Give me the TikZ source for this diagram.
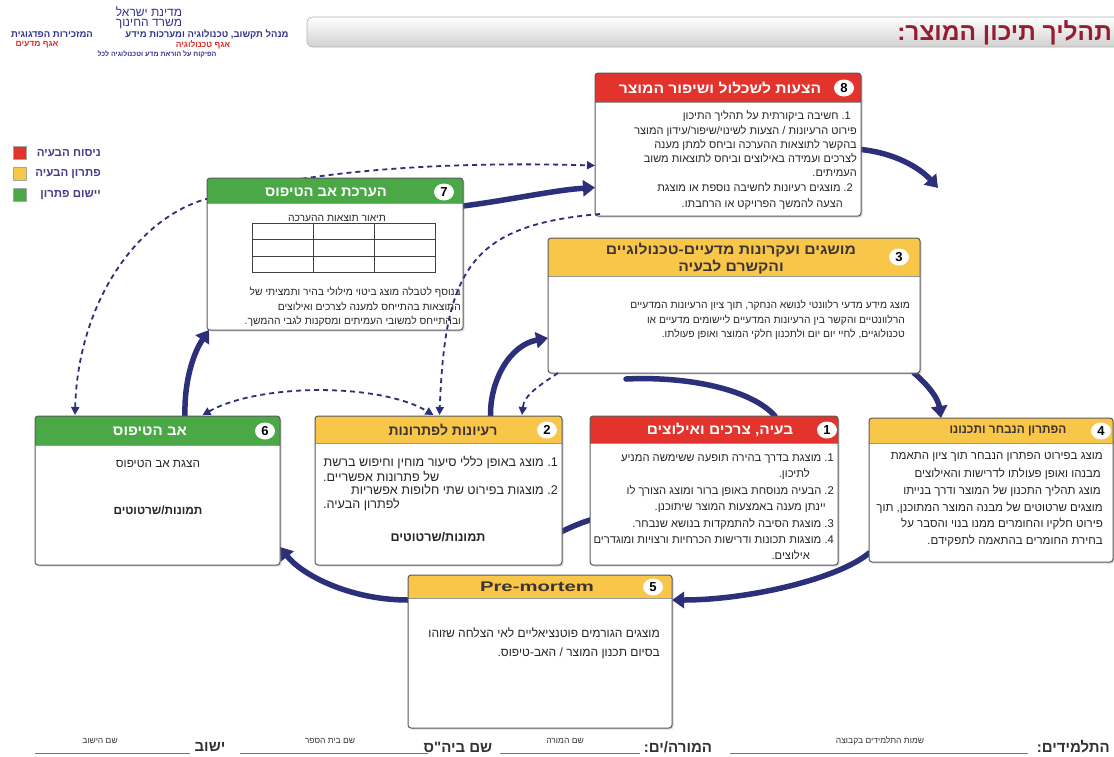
\documentclass[tikz,border=0pt]{standalone}
\usepackage{fontspec}
\setmainfont{Liberation Sans}
\newfontfamily\heb[Script=Hebrew]{Liberation Sans}
\usetikzlibrary{shadows,arrows.meta,calc,shapes.geometric}
\TeXXeTstate=1
\newcommand{\RL}[1]{\beginR #1\endR}
\newcommand{\nm}[1]{\beginL #1.\endL\ }
\definecolor{navy}{RGB}{44,47,122}
\definecolor{hred}{RGB}{226,52,44}
\definecolor{hyel}{RGB}{248,198,72}
\definecolor{hgrn}{RGB}{74,168,70}
\definecolor{bord}{RGB}{90,90,90}
\definecolor{titred}{RGB}{150,28,48}
\definecolor{legtxt}{RGB}{70,62,135}
\definecolor{darkhd}{RGB}{62,52,52}
\definecolor{logoblue}{RGB}{52,52,140}
\definecolor{logored}{RGB}{222,44,40}
\pgfdeclarelayer{bg}
\pgfsetlayers{bg,main}
\newcommand{\fA}{\heb\fontsize{11}{12}\selectfont}
\newcommand{\fB}{\heb\fontsize{10.3}{12}\selectfont}
\newcommand{\fC}{\heb\fontsize{11.5}{13}\selectfont}
\newcommand{\fD}{\heb\fontsize{11.2}{12}\selectfont}
\newcommand{\fE}{\heb\fontsize{12.6}{14}\selectfont}
\newcommand{\fF}{\heb\fontsize{12}{14}\selectfont}
\newcommand{\fG}{\heb\fontsize{11.8}{14}\selectfont}
\newcommand{\mkbox}[7]{%
  \node[boxbody, minimum width=#4pt, minimum height=#5pt] (#1) at (#2,#3) {};
  \fill[#7, rounded corners=3pt] (#1.north west) rectangle ($(#1.north east)+(0,#6)$);
  \fill[#7] ($(#1.north west)+(0,#6/2)$) rectangle ($(#1.north east)+(0,#6)$);
  \draw[black!40, line width=0.6pt] ($(#1.north west)+(0,#6)$) -- ($(#1.north east)+(0,#6)$);
  \draw[bord, line width=1pt, rounded corners=3pt] (#1.north west) rectangle (#1.south east);
}
\tikzset{
  boxbody/.style={rectangle, fill=white, rounded corners=3pt, inner sep=0pt, outer sep=0pt,
    drop shadow={shadow xshift=1.5pt, shadow yshift=-1.5pt, opacity=0.3}},
  numc/.style={ellipse, fill=white, minimum width=20pt, minimum height=17pt, inner sep=0pt,
    font=\bfseries\fontsize{13}{13}\selectfont},
  hdw/.style={text=white, inner sep=0pt, font=\heb\bfseries\fontsize{14}{16}\selectfont},
  hdd/.style={text=darkhd, inner sep=0pt, font=\heb\bfseries\fontsize{14}{16}\selectfont},
  tx/.style={anchor=base east, inner sep=0pt, text=black!85},
  txl/.style={anchor=base west, inner sep=0pt, text=black!85},
  txc/.style={anchor=base, inner sep=0pt, text=black!85},
  thk/.style={draw=navy, line width=5.5pt, line cap=round, -{Triangle[length=12pt,width=16pt]}},
  thkn/.style={draw=navy, line width=5.5pt, line cap=round},
  dsh/.style={draw=navy, line width=1.8pt, dash pattern=on 5pt off 4pt, -{Triangle[length=8pt,width=8pt]}},
  legsq/.style={rectangle, minimum size=13pt, inner sep=0pt, draw=black!35, line width=0.5pt},
  legt/.style={anchor=east, inner sep=0pt, text=legtxt, font=\heb\bfseries\fontsize{11.5}{13}\selectfont},
  ftb/.style={inner sep=0pt, text=black!80, font=\heb\bfseries\fontsize{15}{17}\selectfont},
  fts/.style={inner sep=0pt, text=black!80, font=\heb\fontsize{8.5}{10}\selectfont},
  logot/.style={inner sep=0pt, text=logoblue},
  uline/.style={draw=black!55, line width=0.6pt}
}
\begin{document}
\begin{tikzpicture}[x=1pt,y=-1pt]
\useasboundingbox (0,0) rectangle (1114,756);
\begin{pgfonlayer}{bg}
\fill[white] (0,0) rectangle (1114,756);
\end{pgfonlayer}
% logo
\node[logot, font=\heb\fontsize{12}{13}\selectfont] (lg1) at (149,12) {\RL{מדינת ישראל}};
\node[logot, font=\heb\fontsize{12}{13}\selectfont] (lg2) at (149,24) {\RL{משרד החינוך}};
\node[logot, font=\heb\bfseries\fontsize{9.5}{10}\selectfont] (lg3) at (207,34.5) {\RL{מנהל תקשוב, טכנולוגיה ומערכות מידע}};
\node[logot, font=\heb\bfseries\fontsize{9.5}{10}\selectfont] (lg4) at (52,34.5) {\RL{המזכירות הפדגוגית}};
\node[logot, text=logored, font=\heb\bfseries\fontsize{8.5}{10}\selectfont] (lg5) at (203,44.5) {\RL{אגף טכנולוגיה}};
\node[logot, text=logored, font=\heb\bfseries\fontsize{8.5}{10}\selectfont] (lg6) at (37,44.5) {\RL{אגף מדעים}};
\node[logot, font=\heb\bfseries\fontsize{7}{8}\selectfont] (lg7) at (157,54) {\RL{הפיקוח על הוראת מדע וטכנולוגיה לכל}};
% title bar
\begin{scope}
\clip (0,0) rectangle (1114,756);
\shade[top color=white, bottom color=black!18, draw=black!30, rounded corners=6pt, line width=0.6pt] (307,17) rectangle (1130,47);
\end{scope}
\node[anchor=east, inner sep=0pt, text=titred, font=\heb\bfseries\fontsize{24.5}{27}\selectfont] (ttl) at (1112,33) {\RL{תהליך תיכון המוצר:}};
% legend
\node[legsq, fill=hred] (q1) at (19.5,153) {};
\node[legsq, fill=hyel] (q2) at (19.5,174) {};
\node[legsq, fill=hgrn] (q3) at (19.5,195) {};
\node[legt] (lq1) at (101,153) {\RL{ניסוח הבעיה}};
\node[legt] (lq2) at (101,174) {\RL{פתרון הבעיה}};
\node[legt] (lq3) at (101,195) {\RL{יישום פתרון}};
% boxes
\mkbox{n8}{728}{144.5}{266}{143}{29}{hred}
\mkbox{n7}{335}{254}{256}{152}{25}{hgrn}
\mkbox{n3}{734}{305.5}{372}{135}{38}{hyel}
\mkbox{n6}{157.5}{490.5}{245}{149}{29}{hgrn}
\mkbox{n2}{438.5}{490.5}{247}{149}{27}{hyel}
\mkbox{n1}{714}{490.5}{248}{149}{27}{hred}
\mkbox{n4}{991}{490}{244}{144}{25}{hyel}
\mkbox{n5}{540}{651.5}{264}{153}{23}{hyel}
% headers
\node[hdw] (h8) at (720,88) {\scalebox{1.12}[1]{\RL{הצעות לשכלול ושיפור המוצר}}};
\node[hdw] (h7) at (326,192) {\scalebox{1.05}[1]{\RL{הערכת אב הטיפוס}}};
\node[hdd] (h3a) at (731,250) {\scalebox{1.12}[1]{\RL{מושגים ועקרונות מדעיים-טכנולוגיים}}};
\node[hdd] (h3b) at (731,267) {\scalebox{1.12}[1]{\RL{והקשרם לבעיה}}};
\node[hdw] (h6) at (150,431) {\scalebox{1.08}[1]{\RL{אב הטיפוס}}};
\node[hdd] (h2) at (443,430) {\RL{רעיונות לפתרונות}};
\node[hdw] (h1) at (720,430) {\scalebox{1.1}[1]{\RL{בעיה, צרכים ואילוצים}}};
\node[hdd, font=\heb\bfseries\fontsize{12.5}{14}\selectfont] (h4) at (1008,431) {\scalebox{0.95}[1]{\RL{הפתרון הנבחר ותכנונו}}};
\node[hdd, font=\bfseries\fontsize{14}{16}\selectfont] (h5) at (537,587) {\scalebox{1.45}[1]{Pre-mortem}};
% number circles
\node[numc] (c8) at (844,88) {8};
\node[numc] (c7) at (444,192) {7};
\node[numc] (c3) at (899,257) {3};
\node[numc] (c6) at (265,431) {6};
\node[numc] (c2) at (547,430) {2};
\node[numc] (c1) at (827,430) {1};
\node[numc] (c4) at (1101,431) {4};
\node[numc] (c5) at (653,587) {5};
% box 8 text
\node[tx, font=\fA] (t8a) at (851,119) {\RL{\nm{1}חשיבה ביקורתית על תהליך התיכון}};
\node[tx, font=\fA] (t8b) at (857,134) {\RL{פירוט הרעיונות / הצעות לשינוי/שיפור/עידון המוצר}};
\node[tx, font=\fA] (t8c) at (857,148) {\RL{בהקשר לתוצאות ההערכה וביחס למתן מענה}};
\node[tx, font=\fA] (t8d) at (857,162) {\RL{לצרכים ועמידה באילוצים וביחס לתוצאות משוב}};
\node[tx, font=\fA] (t8e) at (857,176) {\RL{העמיתים.}};
\node[tx, font=\fA] (t8f) at (853,191) {\RL{\nm{2}מוצגים רעיונות לחשיבה נוספת או מוצגת}};
\node[tx, font=\fA] (t8g) at (843,207) {\RL{הצעה להמשך הפרויקט או הרחבתו.}};
% box 7 text
\node[txc, font=\fB] (t7a) at (337,221.5) {\RL{תיאור תוצאות ההערכה}};
\draw[black!75, line width=0.6pt] (252,223) rectangle (435,272);
\draw[black!75, line width=0.6pt] (252,239) -- (435,239) (252,256) -- (435,256) (313,223) -- (313,272) (374,223) -- (374,272);
\node[tx, font=\fB] (t7b) at (461,295.5) {\RL{בנוסף לטבלה מוצג ביטוי מילולי בהיר ותמציתי של}};
\node[tx, font=\fB] (t7c) at (461,310.5) {\RL{התוצאות בהתייחס למענה לצרכים ואילוצים}};
\node[tx, font=\fB] (t7d) at (461,324) {\RL{ובהתייחס למשובי העמיתים ומסקנות לגבי ההמשך.}};
% box 3 text
\node[tx, font=\fB] (t3a) at (910,308.5) {\RL{מוצג מידע מדעי רלוונטי לנושא הנחקר, תוך ציון הרעיונות המדעיים}};
\node[tx, font=\fB] (t3b) at (905,323.5) {\RL{הרלוונטיים והקשר בין הרעיונות המדעיים ליישומים מדעיים או}};
\node[tx, font=\fB] (t3c) at (905,337.5) {\RL{טכנולוגיים, לחיי יום יום ולתכנון חלקי המוצר ואופן פעולתו.}};
% box 6 text
\node[txc, font=\fG] (t6a) at (158,467) {\RL{הצגת אב הטיפוס}};
\node[txc, font=\fG\bfseries] (t6b) at (158,514) {\RL{תמונות/שרטוטים}};
% box 2 text
\node[tx, font=\fE] (t2a) at (558,466) {\RL{\nm{1}מוצג באופן כללי סיעור מוחין וחיפוש ברשת}};
\node[txl, font=\fE] (t2b) at (323,481) {\RL{של פתרונות אפשריים.}};
\node[tx, font=\fE] (t2c) at (558,494.5) {\RL{\nm{2}מוצגות בפירוט שתי חלופות אפשריות}};
\node[txl, font=\fE] (t2d) at (323,508) {\RL{לפתרון הבעיה.}};
\node[txc, font=\fE\bfseries] (t2e) at (438,541) {\RL{תמונות/שרטוטים}};
% box 1 text
\node[tx, font=\fD] (t1a) at (834,461) {\RL{\nm{1}מוצגת בדרך בהירה תופעה ששימשה המניע}};
\node[tx, font=\fD] (t1b) at (810,477) {\RL{לתיכון.}};
\node[tx, font=\fD] (t1c) at (834,494) {\RL{\nm{2}הבעיה מנוסחת באופן ברור ומוצג הצורך לו}};
\node[tx, font=\fD] (t1d) at (826,510.5) {\RL{יינתן מענה באמצעות המוצר שיתוכנן.}};
\node[tx, font=\fD] (t1e) at (834,527) {\RL{\nm{3}מוצגת הסיבה להתמקדות בנושא שנבחר.}};
\node[tx, font=\fD] (t1f) at (834,543.5) {\RL{\nm{4}מוצגות תכונות ודרישות הכרחיות ורצויות ומוגדרים}};
\node[tx, font=\fD] (t1g) at (810,559.5) {\RL{אילוצים.}};
% box 4 text
\node[tx, font=\fC] (t4a) at (1103,459) {\RL{מוצג בפירוט הפתרון הנבחר תוך ציון התאמת}};
\node[tx, font=\fC] (t4b) at (1101,477) {\RL{מבנהו ואופן פעולתו לדרישות והאילוצים}};
\node[tx, font=\fC] (t4c) at (1101,494) {\RL{מוצג תהליך התכנון של המוצר ודרך בנייתו}};
\node[tx, font=\fC] (t4d) at (1103,511) {\RL{מוצגים שרטוטים של מבנה המוצר המתוכנן, תוך}};
\node[tx, font=\fC] (t4e) at (1103,527) {\RL{פירוט חלקיו והחומרים ממנו בנוי והסבר על}};
\node[tx, font=\fC] (t4f) at (1103,544) {\RL{בחירת החומרים בהתאמה לתפקידם.}};
% box 5 text
\node[tx, font=\fF] (t5a) at (660,637) {\RL{מוצגים הגורמים פוטנציאליים לאי הצלחה שזוהו}};
\node[tx, font=\fF] (t5b) at (660,656) {\RL{בסיום תכנון המוצר / האב-טיפוס.}};
% connectors behind boxes
\begin{pgfonlayer}{bg}
\draw[thk] ($(n7.north east)+(0,28)$) .. controls (510,200) and (555,190) .. ($(n8.west)+(0,43)$);
\coordinate (t2end) at (938,188);
\draw[thk] ($(n8.east)+(0,5)$) .. controls (895,153) and (920,168) .. (t2end);
\draw[thk] ($(n3.south east)+(-6,0)$) .. controls (928,385) and (938,398) .. ($(n4.north west)+(72,0)$);
\draw[thk] ($(n4.south west)+(0,-9)$) .. controls (840,578) and (750,600) .. ($(n5.north east)+(0,25)$);
\draw[thk] ($(n5.north west)+(0,25)$) .. controls (350,600) and (302,575) .. ($(n6.south east)+(0,-18)$);
\draw[thk] ($(n6.north west)+(150,0)$) .. controls (184,385) and (192,355) .. ($(n7.south west)+(2,0)$);
\draw[thk] ($(n2.north)+(52,0)$) .. controls (490,380) and (510,345) .. ($(n3.south west)+(0,-35)$);
\coordinate (t8s) at (626,379);
\draw[thkn] (t8s) .. controls (690,376) and (752,390) .. ($(n1.north west)+(185,0)$);
\draw[thkn] ($(n1.west)+(10,27)$) .. controls (580,522) and (570,528) .. ($(n2.east)+(-7,44)$);
\coordinate (d1via) at (210,198);
\draw[dsh, {Triangle[length=8pt,width=8pt]}-{Triangle[length=8pt,width=8pt]}] ($(n6.north west)+(40,-1)$) .. controls (78,300) and (140,215) .. (d1via) .. controls (280,178) and (400,160) .. ($(n8.west)+(0,21)$);
\end{pgfonlayer}
% dashed connectors over boxes
\draw[dsh, {Triangle[length=8pt,width=8pt]}-{Triangle[length=8pt,width=8pt]}] ($(n6.north)+(45,-1)$) .. controls (260,383) and (380,383) .. ($(n2.north)+(-5,-1)$);
\draw[dsh] ($(n8.south west)+(5,-2)$) .. controls (470,225) and (445,270) .. ($(n2.north)+(1,-1)$);
\draw[dsh] ($(n3.south west)+(10,0)$) .. controls (540,385) and (524,395) .. ($(n2.north east)+(-40,-1)$);
% footer
\node[ftb, anchor=east] (f1) at (1110,747) {\RL{התלמידים:}};
\node[fts] (f2) at (880,741) {\RL{שמות התלמידים בקבוצה}};
\node[ftb] (f3) at (678,747) {\RL{המורה/ים:}};
\node[fts] (f4) at (565,741) {\RL{שם המורה}};
\node[ftb] (f5) at (458,747) {\RL{שם ביה"ס}};
\node[fts] (f6) at (330,741) {\RL{שם בית הספר}};
\node[ftb] (f7) at (210,747) {\RL{ישוב}};
\node[fts] (f8) at (100,741) {\RL{שם הישוב}};
\draw[uline] (730,753) -- (1028,753);
\draw[uline] (500,753) -- (640,753);
\draw[uline] (240,753) -- (428,753);
\draw[uline] (35,753) -- (190,753);
\end{tikzpicture}
\end{document}
